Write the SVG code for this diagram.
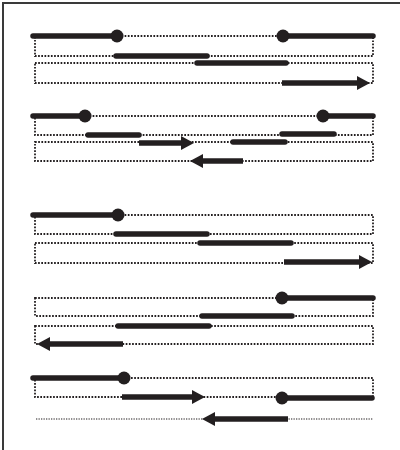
<svg xmlns="http://www.w3.org/2000/svg" width="400" height="450" viewBox="0 0 400 450">
<style>
.frame{fill:none;stroke:#3a3a3a;stroke-width:2}
.dot{fill:none;stroke:#231f20;stroke-width:1.8;stroke-dasharray:1.7 1.5}
.fine{fill:none;stroke:#231f20;stroke-width:1.2;stroke-dasharray:1.3 1.2}
.thick{stroke:#231f20;stroke-width:5.5;stroke-linecap:round;fill:none}
.arr{stroke:#231f20;stroke-width:5.5;stroke-linecap:butt;fill:none;marker-end:url(#ah)}
.knob{fill:#231f20}
</style>
<defs>
<marker id="ah" markerUnits="userSpaceOnUse" markerWidth="14" markerHeight="14" refX="4" refY="7" orient="auto" overflow="visible">
<path d="M0,0 L13,7 L0,14 z" fill="#231f20"/>
</marker>
</defs>
<path class="frame" d="M3,450 V3 H400"/>
<g id="panel1">
<rect class="dot" x="35" y="36" width="338" height="20"/>
<rect class="dot" x="35" y="63" width="338" height="20"/>
<g id="connectors1">
<line class="thick" x1="33" y1="36" x2="117" y2="36"/>
<circle class="knob" cx="117" cy="36" r="6.5"/>
<line class="thick" x1="283" y1="36" x2="373" y2="36"/>
<circle class="knob" cx="283" cy="36" r="6.5"/>
<line class="thick" x1="116" y1="56" x2="207" y2="56"/>
<line class="thick" x1="197" y1="63" x2="286" y2="63"/>
<line class="arr" x1="282" y1="83" x2="361" y2="83"/>
</g>
</g>
<g id="panel2">
<rect class="dot" x="35" y="116" width="338" height="19"/>
<rect class="dot" x="35" y="142" width="338" height="19"/>
<g id="connectors2">
<line class="thick" x1="33" y1="116" x2="85" y2="116"/>
<circle class="knob" cx="85" cy="116" r="6.5"/>
<line class="thick" x1="323" y1="116" x2="373" y2="116"/>
<circle class="knob" cx="323" cy="116" r="6.5"/>
<line class="thick" x1="88" y1="135" x2="139" y2="135"/>
<line class="thick" x1="282" y1="134" x2="334" y2="134"/>
<line class="arr" x1="139" y1="143" x2="185" y2="143"/>
<line class="thick" x1="233" y1="142" x2="285" y2="142"/>
<line class="arr" x1="243" y1="161" x2="199" y2="161"/>
</g>
</g>
<g id="panel3">
<rect class="dot" x="35" y="215" width="338" height="19"/>
<rect class="dot" x="35" y="243" width="338" height="20"/>
<g id="connectors3">
<line class="thick" x1="33" y1="215" x2="118" y2="215"/>
<circle class="knob" cx="118" cy="215" r="6.5"/>
<line class="thick" x1="116" y1="234" x2="207" y2="234"/>
<line class="thick" x1="200" y1="243" x2="291" y2="243"/>
<line class="arr" x1="284" y1="262" x2="363" y2="262"/>
</g>
</g>
<g id="panel4">
<rect class="dot" x="35" y="298" width="338" height="18"/>
<rect class="dot" x="35" y="326" width="338" height="18"/>
<g id="connectors4">
<line class="thick" x1="282" y1="298" x2="373" y2="298"/>
<circle class="knob" cx="282" cy="298" r="6.5"/>
<line class="thick" x1="202" y1="316" x2="292" y2="316"/>
<line class="thick" x1="118" y1="326" x2="209" y2="326"/>
<line class="arr" x1="123" y1="344" x2="46" y2="344"/>
</g>
</g>
<g id="panel5">
<rect class="dot" x="35" y="378" width="338" height="19"/>
<line class="fine" x1="36" y1="419" x2="373" y2="419"/>
<g id="connectors5">
<line class="thick" x1="33" y1="378" x2="124" y2="378"/>
<circle class="knob" cx="124" cy="378" r="6.5"/>
<line class="arr" x1="122" y1="397" x2="196" y2="397"/>
<line class="thick" x1="282" y1="398" x2="372" y2="398"/>
<circle class="knob" cx="282" cy="398" r="6.5"/>
<line class="arr" x1="288" y1="419" x2="211" y2="419"/>
</g>
</g>
</svg>
